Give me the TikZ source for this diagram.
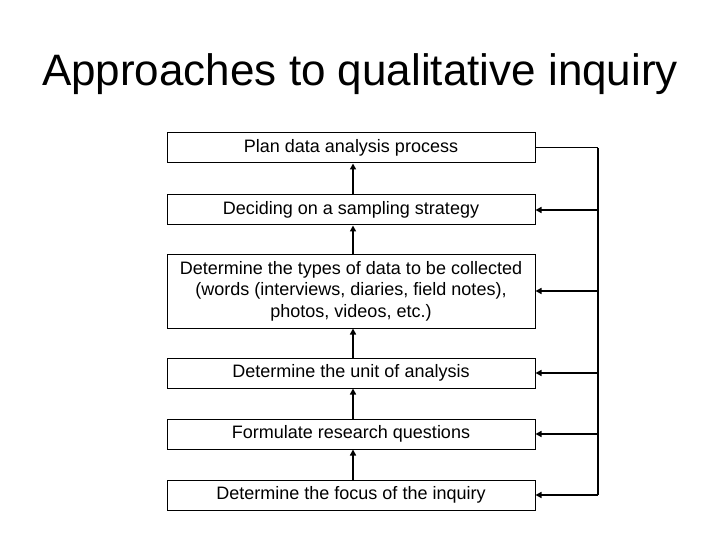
\documentclass[tikz,border=0pt]{standalone}
\usepackage{fontspec}
\setmainfont{Liberation Sans}
\usetikzlibrary{arrows.meta}
\begin{document}
\begin{tikzpicture}[x=1pt,y=-1pt,
  stepbox/.style={draw=black,line width=1pt,minimum width=368pt,align=center,inner sep=0pt,font=\fontsize{18}{21.5}\selectfont},
  conn/.style={line width=1.8pt,-{Triangle[length=6pt,width=6pt]}},
  feed/.style={line width=1.8pt}]
\useasboundingbox (0,0) rectangle (720,540);
\node[font=\fontsize{44}{50}\selectfont,anchor=base] (title) at (360,86) {Approaches to qualitative inquiry};
\node[stepbox,minimum height=30pt] (b1) at (351,148) {Plan data analysis process};
\node[stepbox,minimum height=30pt] (b2) at (351,210) {Deciding on a sampling strategy};
\node[stepbox,minimum height=74pt] (b3) at (351,291) {Determine the types of data to be collected\\(words (interviews, diaries, field notes),\\photos, videos, etc.)};
\node[stepbox,minimum height=30pt] (b4) at (351,373) {Determine the unit of analysis};
\node[stepbox,minimum height=30pt] (b5) at (351,434) {Formulate research questions};
\node[stepbox,minimum height=30pt] (b6) at (351,495) {Determine the focus of the inquiry};
\foreach \a/\b in {b6/b5,b5/b4,b4/b3,b3/b2,b2/b1}
  \draw[conn] ([xshift=2pt]\a.north) -- ([xshift=2pt]\b.south);
\coordinate (rt) at (598,148);
\coordinate (rb) at (598,495);
\draw[line width=1pt] (b1.east) -- (rt);
\draw[feed] (rt) -- (rb);
\draw[conn] (rb) -- (b6.east);
\foreach \b in {b2,b3,b4,b5}
  \draw[conn] (rt |- \b.east) -- (\b.east);
\end{tikzpicture}
\end{document}
